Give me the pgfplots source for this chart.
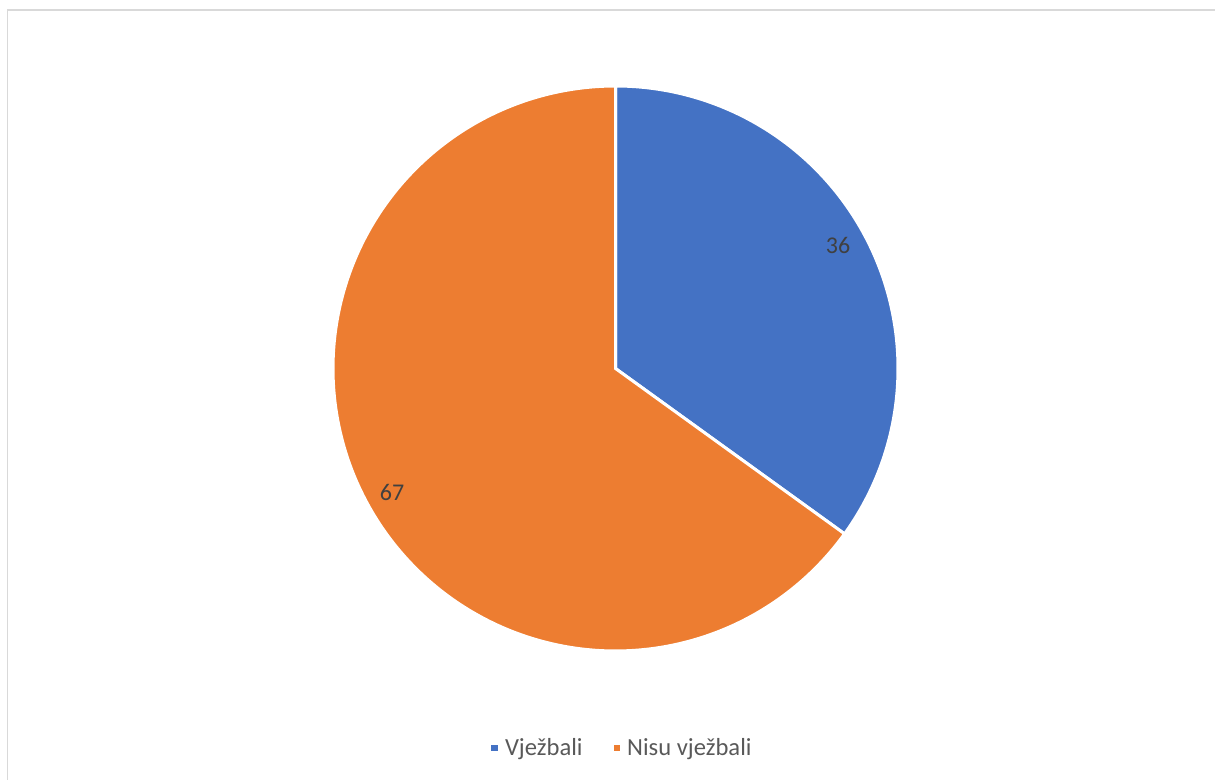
\documentclass[border=0pt]{standalone}
\usepackage{fontspec}
\setmainfont{Carlito}
\usepackage{pgfplots}
\pgfplotsset{compat=1.18}
\definecolor{cblue}{HTML}{4472C4}
\definecolor{corange}{HTML}{ED7D31}
\definecolor{ctext}{HTML}{404040}
\definecolor{clegend}{HTML}{595959}
\definecolor{cborder}{HTML}{D9D9D9}
\begin{document}
\begin{tikzpicture}
\def\va{36}\def\vb{67}
\pgfmathsetmacro\total{\va+\vb}
\pgfmathsetmacro\angA{360*\va/\total}
\pgfmathsetmacro\startA{90-\angA}
\pgfmathsetmacro\endB{\startA+360}
\begin{axis}[scale only axis, width=607.5pt, height=390pt,
  xmin=0,xmax=1215,ymin=0,ymax=780, hide axis, clip=false,
  legend columns=2,
  legend style={draw=none, fill=none, at={(axis cs:622,32)}, anchor=center,
    font=\fontsize{12.3}{14}\selectfont, text=clegend,
    /tikz/every even column/.append style={column sep=12pt}},
  legend image code/.code={\fill[#1] (0pt,-2.4pt) rectangle (4.8pt,2.4pt);}]
\draw[cborder, line width=0.75pt] (axis cs:7.5,-20) -- (axis cs:7.5,770) -- (axis cs:1240,770);
\addplot[fill=cblue, draw=white, line width=1.5pt, domain=\startA:90, samples=150, variable=\t]
  ({615.5+282.5*cos(\t)},{411.5+282.5*sin(\t)}) -- (axis cs:615.5,411.5) -- cycle;
\addlegendentry{Vježbali}
\addplot[fill=corange, draw=white, line width=1.5pt, domain=90:\endB, samples=250, variable=\t]
  ({615.5+282.5*cos(\t)},{411.5+282.5*sin(\t)}) -- (axis cs:615.5,411.5) -- cycle;
\addlegendentry{Nisu vježbali}
\node[text=ctext, font=\fontsize{12}{14}\selectfont] at (axis cs:838,535) {36};
\node[text=ctext, font=\fontsize{12}{14}\selectfont] at (axis cs:392,288) {67};
\end{axis}
\pgfresetboundingbox
\path (current axis.south west) rectangle (current axis.north east);
\end{tikzpicture}
\end{document}
